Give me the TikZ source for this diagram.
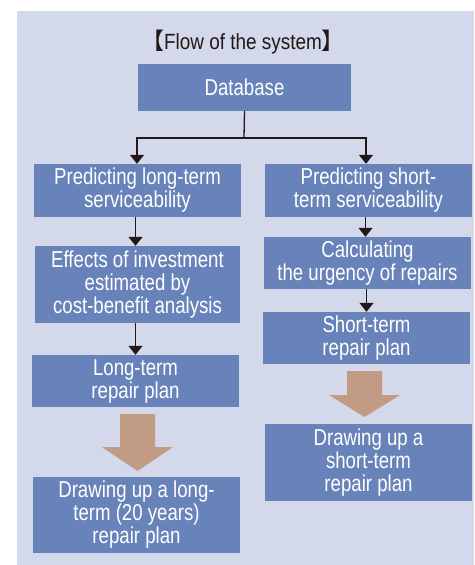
\documentclass[tikz,border=0pt]{standalone}
\usepackage{fontspec}
\setmainfont{Liberation Sans}[FakeStretch=0.81]
\newfontfamily\titlefont{Liberation Sans}[FakeStretch=0.86]
\newfontfamily\cjkfont{Noto Sans CJK JP}
\usetikzlibrary{arrows.meta}
\definecolor{bgc}{RGB}{211,216,234}
\definecolor{boxc}{RGB}{104,130,186}
\definecolor{brownc}{RGB}{194,155,133}
\definecolor{inkc}{RGB}{35,24,21}
\tikzset{
  box/.style={rectangle, fill=boxc, text=white, minimum width=207pt, inner sep=0pt, align=center,
    font=\fontsize{23}{23}\selectfont},
  arr/.style={draw=inkc, line width=1.3pt, -{Triangle[width=14pt,length=9pt]}},
  bigarrow/.style={fill=brownc}
}
\begin{document}
\begin{tikzpicture}[x=1pt,y=-1pt]
\useasboundingbox (0,0) rectangle (474,565);
\fill[bgc] (17,11) rectangle (474,565);
\node[text=inkc, font=\titlefont\fontsize{22}{24}\selectfont, inner sep=0pt] (title) at (243,42) {{\cjkfont\fontsize{23}{24}\selectfont 【}Flow of the system{\cjkfont\fontsize{23}{24}\selectfont 】}};
\node[box, minimum width=213pt, minimum height=47pt] (db) at (244.5,87.5) {Database};
\node[box, minimum height=53pt] (L1) at (137.5,190.5) {Predicting long-term\\serviceability};
\node[box, minimum height=53pt] (R1) at (368.5,190.5) {Predicting short-\\term serviceability};
\node[box, minimum width=205pt, minimum height=77pt] (L2) at (137.5,284.5) {Effects of investment\\estimated by\\cost-benefit analysis};
\node[box, minimum height=52pt] (L3) at (135.5,381) {Long-term\\repair plan};
\node[box, minimum height=76pt] (L4) at (136.5,515) {Drawing up a long-\\term (20 years)\\repair plan};
\node[box, minimum height=52pt] (R2) at (367.5,263) {Calculating\\the urgency of repairs};
\node[box, minimum height=52pt] (R3) at (366.5,338) {Short-term\\repair plan};
\node[box, minimum height=77pt] (R4) at (368.5,462.5) {Drawing up a\\short-term\\repair plan};
\coordinate (split) at (244,138);
\draw[draw=inkc, line width=1.3pt] (db.south) -- (split);
\draw[arr] (split) -| ([xshift=-0.5pt]L1.north);
\draw[arr] (split) -| ([xshift=-2.5pt]R1.north);
\draw[arr] ([xshift=-2pt]L1.south) -- ([xshift=-2pt]L1.south |- L2.north);
\draw[arr] ([xshift=-2pt]L2.south) -- ([xshift=-2pt]L2.south |- L3.north);
\draw[arr] ([xshift=-3pt]R1.south) -- ([xshift=-3pt]R1.south |- R2.north);
\draw[arr] ([xshift=-1pt]R2.south) -- ([xshift=-1pt]R2.south |- R3.north);
\fill[bigarrow] (120,414) -- (155,414) -- (155,447) -- (173,447) -- (137.5,471) -- (102,447) -- (120,447) -- cycle;
\fill[bigarrow] (347,371) -- (382,371) -- (382,395) -- (400,395) -- (364.5,417) -- (329,395) -- (347,395) -- cycle;
\end{tikzpicture}
\end{document}
